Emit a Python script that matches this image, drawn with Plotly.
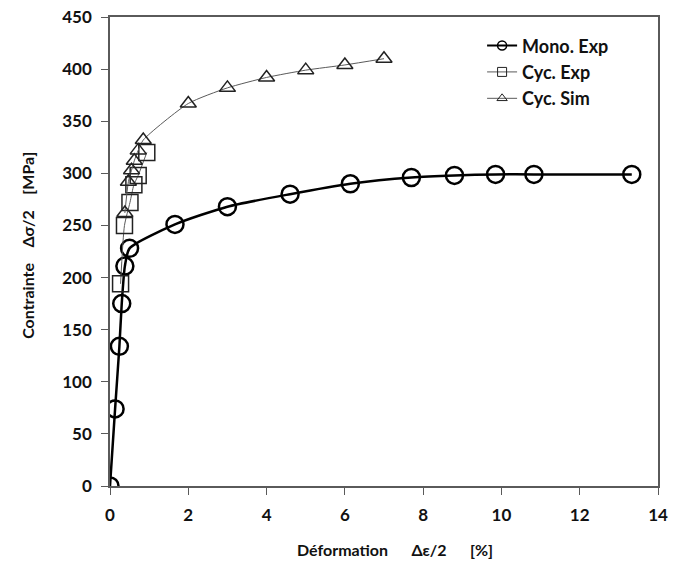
import plotly.graph_objects as go

# Monotonic tensile test (experimental)
mono_strain = [0, 0.13, 0.24, 0.30, 0.38, 0.50, 1.66, 3.0, 4.6, 6.14, 7.7, 8.8, 9.85, 10.83, 13.33]
mono_stress = [0, 74, 134, 175, 211, 228, 251, 268, 280, 290, 296, 298, 299, 299, 299]

# Cyclic stabilised curve (experimental)
cyc_exp_strain = [0.27, 0.37, 0.51, 0.61, 0.72, 0.94]
cyc_exp_stress = [194, 250, 272, 289, 298, 320]

# Cyclic curve (simulation)
cyc_sim_strain = [0.38, 0.47, 0.55, 0.62, 0.72, 0.85, 2.0, 3.0, 4.0, 5.0, 6.0, 7.0]
cyc_sim_stress = [262, 292, 303, 312, 322, 332, 367, 382, 392, 399, 404, 410]

x_ticks = [0, 2, 4, 6, 8, 10, 12, 14]
y_ticks = [0, 50, 100, 150, 200, 250, 300, 350, 400, 450]

FONT = "Lato, 'Open Sans', sans-serif"
INK = "#111111"
GREY = "#5a5a5a"

series = [
    dict(name="Mono. Exp", x=mono_strain, y=mono_stress, symbol="circle-open",
         size=17, mcolor="black", mwidth=2.5, lcolor="black", lwidth=2.5),
    dict(name="Cyc. Exp", x=cyc_exp_strain, y=cyc_exp_stress, symbol="square-open",
         size=16, mcolor="#222222", mwidth=1.5, lcolor=GREY, lwidth=1),
    dict(name="Cyc. Sim", x=cyc_sim_strain, y=cyc_sim_stress, symbol="triangle-up-open",
         size=14, mcolor="#222222", mwidth=1.5, lcolor=GREY, lwidth=1),
]

fig = go.Figure()

for s in series:
    fig.add_trace(go.Scatter(
        x=s["x"], y=s["y"], name=s["name"], mode="lines+markers",
        line=dict(color=s["lcolor"], width=s["lwidth"], shape="spline", smoothing=0.6),
        marker=dict(symbol=s["symbol"], size=s["size"], color=s["mcolor"],
                    line=dict(width=s["mwidth"])),
        showlegend=False,
    ))

# Legend keys with smaller symbols than the plotted markers
for s in series:
    fig.add_trace(go.Scatter(
        x=[None], y=[None], name=s["name"], mode="lines+markers",
        line=dict(color=s["lcolor"], width=2 if s["lwidth"] > 2 else 1),
        marker=dict(symbol=s["symbol"], size=9, color=s["mcolor"],
                    line=dict(width=1.5 if s["lwidth"] > 2 else 1)),
        hoverinfo="skip",
    ))

axis_common = dict(
    showline=True, linecolor=GREY, linewidth=1.5, mirror=True,
    ticks="outside", ticklen=7, tickwidth=1.2, tickcolor=GREY,
    showgrid=False, zeroline=False, automargin=False,
    tickfont=dict(family=FONT, size=17, color=INK, weight="bold"),
)

fig.update_xaxes(range=[0, 14], tickvals=x_ticks, ticklabelstandoff=6, **axis_common)
fig.update_yaxes(range=[0, 450], tickvals=y_ticks, ticklabelstandoff=6, **axis_common)

title_font = dict(family=FONT, size=16, color=INK, weight="bold")
fig.add_annotation(
    text="Déformation      Δε/2      [%]", xref="paper", yref="paper",
    x=0.52, y=0, yshift=-63, xanchor="center", yanchor="middle",
    showarrow=False, font=title_font,
)
fig.add_annotation(
    text="Contrainte    Δσ/2    [MPa]", xref="paper", yref="paper",
    x=0, y=0.512, xshift=-82, xanchor="center", yanchor="middle",
    textangle=-90, showarrow=False, font=title_font,
)

fig.update_layout(
    width=673, height=562,
    margin=dict(l=110, r=15, t=17, b=76),
    paper_bgcolor="white", plot_bgcolor="white",
    showlegend=True,
    legend=dict(
        x=0.679, y=0.978, xanchor="left", yanchor="top",
        bgcolor="rgba(0,0,0,0)",
        font=dict(family=FONT, size=18, color=INK, weight="bold"),
        tracegroupgap=0,
    ),
)

fig.write_html("out.html")
